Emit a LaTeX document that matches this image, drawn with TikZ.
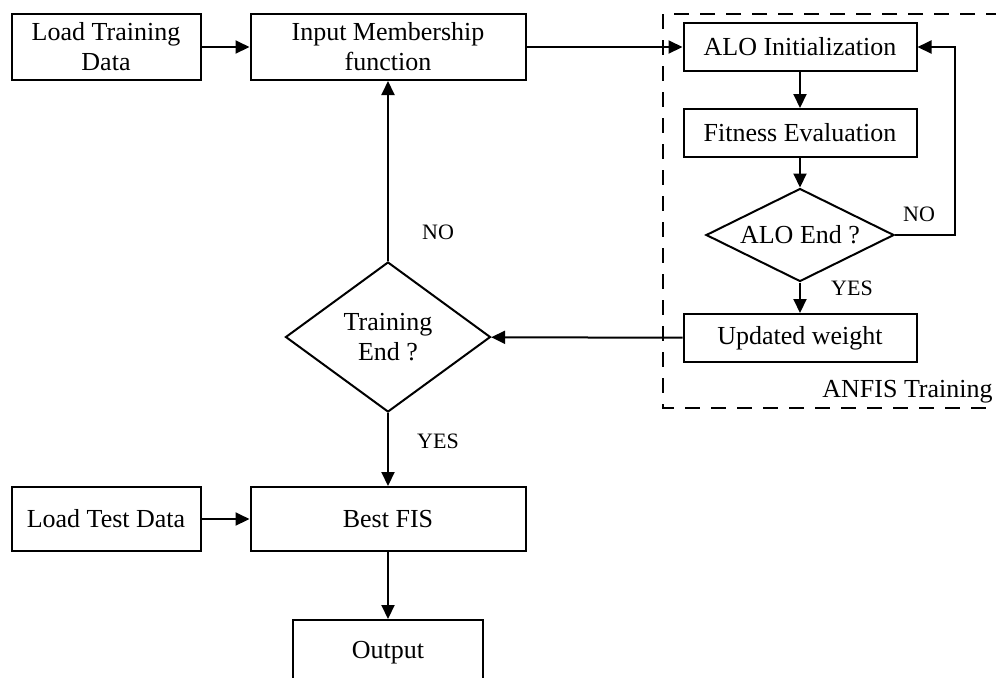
\documentclass[tikz,border=0pt]{standalone}
\usepackage{fontspec}
\setmainfont{Liberation Serif}
\usetikzlibrary{positioning,shapes.geometric,arrows.meta}

\begin{document}
\begin{tikzpicture} [x=0.5pt, y=-0.5pt, on grid,
    font=\fontsize{13}{15}\selectfont,
    >={Triangle[length=7pt,width=6.5pt]},
    block/.style={draw, line width=1pt, align=center, minimum width=#1, minimum height=33pt, inner sep=2pt},
    aloblock/.style={block=116.5pt, minimum height=24pt},
    decision/.style={draw, diamond, line width=1pt, align=center, inner sep=0pt},
    frame/.style={dash pattern=on 7.5pt off 5.5pt, line width=1.2pt},
    tag/.style={font=\fontsize{11}{13}\selectfont}]
       \useasboundingbox (0,0) rectangle (996,677);
       % main loop
       \node (inp) [block=137.5pt] at (388,47) {Input Membership\\function};
       \node (ltd) [block=94.5pt] [left = 141pt of inp] {Load Training\\Data};
       \node (trend) [decision, minimum width=102.5pt, minimum height=75pt] [below = 145pt of inp] {Training\\End ?};
       \node (best) [block=137.5pt, minimum height=32pt] [below = 91pt of trend] {Best FIS};
       \node (ltest) [block=94.5pt, minimum height=32pt] [left = 141pt of best] {Load Test Data};
       \node (out) [block=95pt] [below = 67pt of best] {Output};
       % ALO part
       \node (alo) [aloblock] [right = 206pt of inp] {ALO Initialization};
       \node (fit) [aloblock] [below = 43pt of alo] {Fitness Evaluation};
       \node (aloend) [decision, shape aspect=2, minimum width=94pt, minimum height=46.5pt] [below = 51pt of fit] {ALO End ?};
       \node (upd) [aloblock] [below = 51.5pt of aloend] {Updated weight};
       \coordinate [right = 30pt of aloend.east] (back);
       \draw[frame] (663,14) rectangle (1010,408);
       \node (anfis) [anchor=base west, inner sep=0pt] at (822,397) {ANFIS Training};
        \path[->, line width=1pt]
        (ltd) edge (inp)
        (inp) edge (alo)
        (alo) edge (fit)
        (fit) edge (aloend)
        (aloend) edge node[tag, pos=0.2, xshift=26pt] {YES} (upd)
        (upd) edge (trend)
        (trend) edge node[tag, pos=0.16, xshift=25pt] {NO} (inp)
        (trend) edge node[tag, pos=0.39, xshift=25pt] {YES} (best)
        (ltest) edge (best)
        (best) edge (out);
        \draw[->, line width=1pt] (aloend) -- node[tag, yshift=10.5pt, xshift=-3pt] {NO} (back) |- (alo);
     \end{tikzpicture}
\end{document}
